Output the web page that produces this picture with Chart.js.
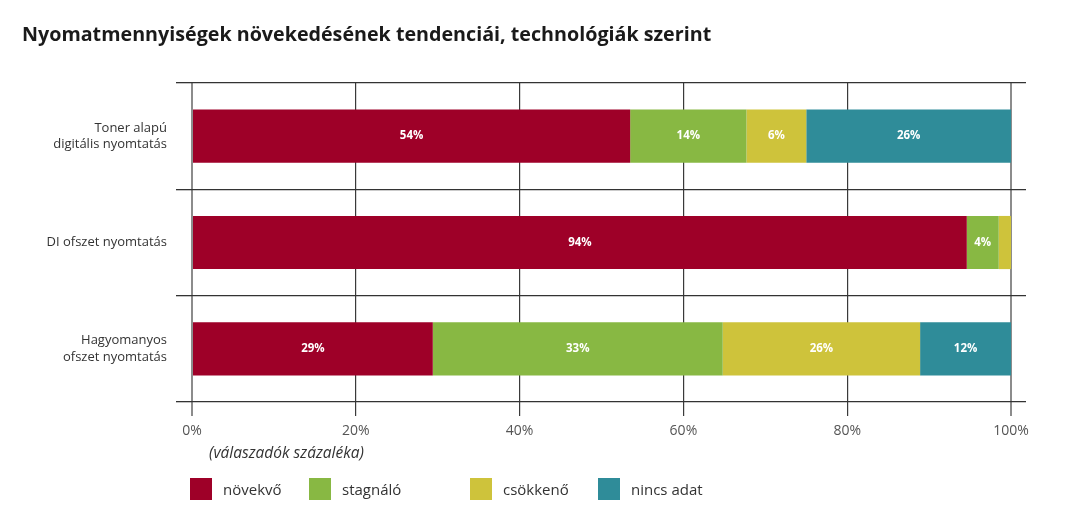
<!DOCTYPE html>
<html lang="hu">
<head>
<meta charset="utf-8">
<title>Nyomatmennyiségek növekedésének tendenciái</title>
<script src="https://cdn.jsdelivr.net/npm/chart.js@4.4.1/dist/chart.umd.min.js"></script>
<style>
  html, body { margin: 0; padding: 0; background: #fff; }
  body { width: 1067px; height: 511px; overflow: hidden; position: relative; font-family: 'Open Sans', sans-serif; }
  #frame { position: absolute; left: 5px; top: 7px; width: 1058px; height: 540px; border: 1.5px solid #f6b546; box-sizing: border-box; }
  #wrap { position: absolute; left: 0; top: 0; width: 1067px; height: 511px; }
  #note { position: absolute; left: 209px; top: 442px; font-size: 15.5px; line-height: 21px; font-style: italic; color: #333; }
  .lg { position: absolute; top: 478px; height: 22px; display: flex; align-items: center; font-size: 15px; color: #333; white-space: nowrap; }
  .lg i { display: inline-block; width: 22px; height: 22px; margin-right: 11px; }
</style>
</head>
<body>
<div id="frame"></div>
<div id="wrap"><canvas id="chart_nyomat"></canvas></div>
<div id="note">(válaszadók százaléka)</div>
<div id="legend"></div>
<script>
// categories (y axis)
const categories = [
  ['Toner alapú', 'digitális nyomtatás'],
  'DI ofszet nyomtatás',
  ['Hagyomanyos', 'ofszet nyomtatás']
];

// series values, percent of respondents (bar lengths as drawn)
const novekvo   = [53.5, 94.6, 29.4];
const stagnalo  = [14.2, 3.9, 35.4];
const csokkeno  = [7.3, 1.5, 24.1];
const nincsAdat = [25.0, 0, 11.1];

// printed labels inside the bars
const novekvoLabels   = ['54%', '94%', '29%'];
const stagnaloLabels  = ['14%', '4%', '33%'];
const csokkenoLabels  = ['6%', '', '26%'];
const nincsAdatLabels = ['26%', '', '12%'];

const seriesNames = ['növekvő', 'stagnáló', 'csökkenő', 'nincs adat'];
const seriesColors = ['#9e0028', '#88b843', '#cec33b', '#2f8c99'];
const xTicks = [0, 20, 40, 60, 80, 100];

// axis runs a bit past 100% so the row separators overhang on the right
const xMax = 101.83;

const legendX = [190, 309, 470, 598];
const legendBox = document.getElementById('legend');
seriesNames.forEach(function (name, i) {
  const d = document.createElement('div');
  d.className = 'lg';
  d.style.left = legendX[i] + 'px';
  d.innerHTML = '<i style="background:' + seriesColors[i] + '"></i>' + name;
  legendBox.appendChild(d);
});

const barLabels = [novekvoLabels, stagnaloLabels, csokkenoLabels, nincsAdatLabels];

function ds(i, values) {
  return {
    label: seriesNames[i],
    data: values,
    backgroundColor: seriesColors[i],
    borderWidth: 0,
    barPercentage: 0.5,
    categoryPercentage: 1
  };
}

var chart_nyomat = new Chart(document.getElementById('chart_nyomat'), {
  type: 'bar',
  data: {
    labels: categories,
    datasets: [
      ds(0, novekvo),
      ds(1, stagnalo),
      ds(2, csokkeno),
      ds(3, nincsAdat)
    ]
  },
  options: {
    indexAxis: 'y',
    animation: false,
    responsive: true,
    maintainAspectRatio: false,
    layout: {
      padding: { left: 22, right: 41, top: 0, bottom: 69 }
    },
    plugins: {
      legend: { display: false },
      tooltip: { enabled: false },
      title: {
        display: true,
        text: 'Nyomatmennyiségek növekedésének tendenciái, technológiák szerint',
        align: 'start',
        color: '#1a1a1a',
        font: { family: 'Open Sans', size: 19.7, weight: 'bold' },
        padding: { top: 24, bottom: 35.4 }
      }
    },
    scales: {
      x: {
        type: 'linear',
        stacked: true,
        min: 0,
        max: xMax,
        afterFit: function (scale) { scale.height = 40; },
        afterBuildTicks: function (scale) {
          scale.ticks = xTicks.map(function (v) { return { value: v }; });
        },
        ticks: {
          stepSize: 20,
          includeBounds: false,
          padding: 7,
          color: '#555',
          font: { family: 'Open Sans', size: 14 },
          callback: function (v) { return v + '%'; }
        },
        grid: {
          tickLength: 14,
          color: function (ctx) {
            return (ctx.tick && (ctx.tick.value === 0 || ctx.tick.value === 100)) ? '#8c8c8c' : '#3a3a3a';
          },
          lineWidth: function (ctx) {
            return (ctx.tick && (ctx.tick.value === 0 || ctx.tick.value === 100)) ? 2 : 1.2;
          }
        },
        border: { display: false }
      },
      y: {
        type: 'category',
        stacked: true,
        afterFit: function (scale) { scale.width = 170; },
        ticks: {
          padding: 9,
          color: '#333',
          font: { family: 'Open Sans', size: 13 , lineHeight: 1.25 }
        },
        grid: {
          offset: true,
          tickLength: 16,
          color: '#333',
          lineWidth: 1.3
        },
        border: { display: false }
      }
    }
  },
  plugins: [{
    id: 'barLabels',
    afterDatasetsDraw: function (chart) {
      const ctx = chart.ctx;
      ctx.save();
      ctx.fillStyle = '#fff';
      ctx.font = 'bold 11.5px "Open Sans"';
      ctx.textAlign = 'center';
      ctx.textBaseline = 'middle';
      chart.data.datasets.forEach(function (d, di) {
        chart.getDatasetMeta(di).data.forEach(function (bar, i) {
          const txt = barLabels[di][i];
          if (!txt) return;
          ctx.fillText(txt, (bar.x + bar.base) / 2, bar.y);
        });
      });
      ctx.restore();
    }
  }, {
    id: 'whiteBg',
    beforeDraw: function (chart) {
      const ctx = chart.canvas.getContext('2d');
      ctx.save();
      ctx.globalCompositeOperation = 'destination-over';
      ctx.fillStyle = 'white';
      ctx.fillRect(0, 0, chart.canvas.width, chart.canvas.height);
      ctx.restore();
    }
  }]
});
</script>
</body>
</html>
